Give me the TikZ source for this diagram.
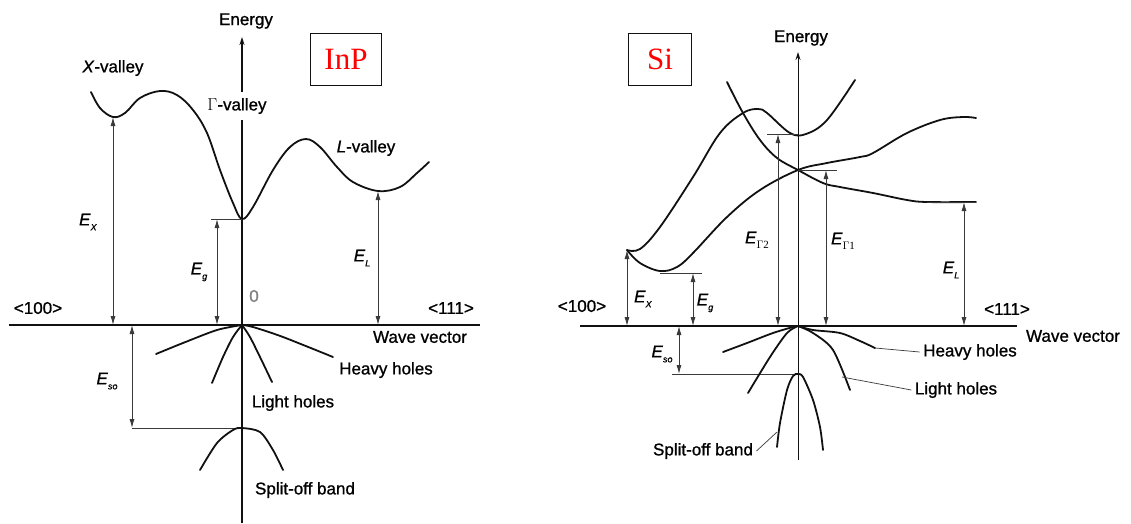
\documentclass[tikz,border=0pt]{standalone}
\usepackage{fontspec}
\setmainfont{Liberation Sans}[RawFeature={embolden=1}]
\newfontfamily\timesfont{Liberation Serif}
\usetikzlibrary{arrows.meta}
\definecolor{blackmain}{HTML}{111111}
\definecolor{graythin}{HTML}{3A3A3A}
\definecolor{redlabel}{HTML}{FF0000}
\newcommand{\esub}[1]{\textit{E}\raisebox{-0.55ex}{\fontsize{9}{10}\selectfont\textit{#1}}}
\newcommand{\egam}[1]{\textit{E}\raisebox{-0.55ex}{\timesfont\fontsize{11}{12}\selectfont$\Gamma$#1}}
\tikzset{every node/.append style={font=\fontsize{17}{20}\selectfont},
  band/.style={blackmain,line width=1.8pt,line cap=round},
  gap/.style={graythin,line width=0.9pt,{Latex[length=9pt,width=5pt]}-{Latex[length=9pt,width=5pt]}},
  level/.style={graythin,line width=0.8pt},
  lead/.style={graythin,line width=0.7pt},
  matbox/.style={draw=blackmain,line width=1pt,text=redlabel,inner sep=0pt,
    font=\timesfont\fontsize{31}{34}\selectfont,minimum height=52pt}}

\begin{document}
\begin{tikzpicture}[>={Stealth[length=8pt,width=5pt]},x=1pt,y=-1pt]
  \useasboundingbox (0,0) rectangle (1131,523);
  % ---------- InP ----------
  \coordinate (OL) at (242,325);
  \coordinate (XminL) at (113,117);
  \coordinate (GminL) at (242,219);
  \coordinate (LminL) at (378,191);
  \coordinate (SOtopL) at (242,428);
  \draw[blackmain,line width=1.5pt] (9,325) -- (480,325);
  \draw[->,blackmain,line width=1.4pt] (242,523) -- (242,37);
  \node (energyL) at (246,21) {Energy};
  \node[matbox,minimum width=71pt] (inp) at (346,59) {InP};
  \node (xvalL) at (113,68) {\textit{X}-valley};
  \node[fill=white,inner xsep=1pt,inner ysep=6pt] (gvalL) at (237,106) {$\Gamma$-valley};
  \node (lvalL) at (366,148) {\textit{L}-valley};
  \draw[band] plot[smooth,tension=0.6] coordinates {(91,92) (100,108) (XminL) (125,113)
    (140,98) (160,91) (177,95) (193,110) (207,133) (220,170) (233,203) (GminL)
    (253,207) (273,170) (290,147) (306,139) (320,147) (337,167) (353,182) (LminL)
    (400,187) (417,173) (429,162)};
  % gaps
  \draw[level] (211,219) -- (GminL);
  \draw[gap] (XminL) -- (XminL |- OL);
  \draw[gap] (217,219) -- (217,325);
  \draw[gap] (LminL) -- (LminL |- OL);
  \draw[level] (132,428) -- (SOtopL);
  \draw[gap] (132,325) -- (132,428);
  \node (exL) at (88,222) {\esub{X}};
  \node (egL) at (199,272) {\esub{g}};
  \node (elL) at (362,258) {\esub{L}};
  \node (esoL) at (107,381) {\esub{so}};
  \node[text=gray] (zeroL) at (254,296) {0};
  \node (d100L) at (38,308) {<100>};
  \node (d111L) at (451,308) {<111>};
  \node (wvL) at (420,337) {Wave vector};
  % holes
  \draw[band] plot[smooth] coordinates {(156,354) (183,343) (217,330) (OL)};
  \draw[band] plot[smooth] coordinates {(OL) (253,327) (283,337) (333,357)};
  \draw[band] plot[smooth] coordinates {(OL) (233,337) (223,357) (212,383)};
  \draw[band] plot[smooth] coordinates {(OL) (250,337) (260,357) (272,382)};
  \draw[band] plot[smooth] coordinates {(200,470) (217,443) (233,430) (SOtopL)
    (260,432) (273,450) (283,470)};
  \node (hhL) at (386,370) {Heavy holes};
  \node (lhL) at (293,403) {Light holes};
  \node (soL) at (305,490) {Split-off band};
  % ---------- Si ----------
  \coordinate (OR) at (798,326);
  \coordinate (XminR) at (627,250);
  \coordinate (GminR) at (798,134);
  \coordinate (GcrossR) at (798,170);
  \coordinate (LminR) at (964,202);
  \coordinate (SOtopR) at (798,374);
  \draw[blackmain,line width=2.2pt] (580,326) -- (1017,326);
  \draw[->,blackmain,line width=1pt] (798,460) -- (798,52);
  \node (energyR) at (801,38) {Energy};
  \node[matbox,minimum width=63pt] (si) at (660,59) {Si};
  \draw[band] plot[smooth,tension=0.6] coordinates {(727,82) (743,113) (760,140)
    (777,158) (GcrossR) (823,183) (840,187) (873,193) (907,200) (927,202) (976,202)};
  \draw[band] plot[smooth,tension=0.6] coordinates {(XminR) (640,249) (660,227)
    (693,177) (720,133) (743,113) (758,109) (767,113) (790,133) (806,134)
    (827,120) (855,80)};
  \draw[band] plot[smooth,tension=0.6] coordinates {(XminR) (640,263) (660,271)
    (677,267) (693,253) (727,217) (760,190) (GcrossR) (827,163) (860,157)
    (873,153) (907,133) (940,120) (963,117) (976,118)};
  % gaps
  \draw[level] (767,134) -- (GminR);
  \draw[level] (GcrossR) -- (837,170);
  \draw[level] (660,273) -- (702,273);
  \draw[level] (927,202) -- (976,202);
  \draw[level] (672,374) -- (SOtopR);
  \draw[gap] (XminR) -- (XminR |- OR);
  \draw[gap] (693,273) -- (693,326);
  \draw[gap] (778,134) -- (778,326);
  \draw[gap] (826,170) -- (826,326);
  \draw[gap] (LminR) -- (LminR |- OR);
  \draw[gap] (679,326) -- (679,374);
  \node (exR) at (643,299) {\esub{X}};
  \node (egR) at (705,303) {\esub{g}};
  \node (eg2R) at (757,240) {\egam{2}};
  \node (eg1R) at (843,241) {\egam{1}};
  \node (elR) at (951,270) {\esub{L}};
  \node (esoR) at (662,354) {\esub{so}};
  \node (d100R) at (582,306) {<100>};
  \node (d111R) at (1007,309) {<111>};
  \node (wvR) at (1073,336) {Wave vector};
  % holes
  \draw[band] plot[smooth] coordinates {(723,352) (747,343) (773,333) (793,327) (OR)};
  \draw[band] plot[smooth] coordinates {(OR) (813,330) (840,333) (860,341) (875,348)};
  \draw[band] plot[smooth] coordinates {(OR) (787,333) (770,357) (748,393)};
  \draw[band] plot[smooth] coordinates {(OR) (813,333) (833,350) (850,390)};
  \draw[band] plot[smooth] coordinates {(777,447) (780,423) (787,390) (793,376)
    (SOtopR) (803,377) (813,400) (820,427) (823,450)};
  \node (hhR) at (970,352) {Heavy holes};
  \node (lhR) at (956,390) {Light holes};
  \node (soR) at (703,451) {Split-off band};
  \draw[lead] (875,348) -- (hhR.west);
  \draw[lead] (842,377) -- (lhR.west);
  \draw[lead] (soR.east) -- (777,432);
\end{tikzpicture}
\end{document}
